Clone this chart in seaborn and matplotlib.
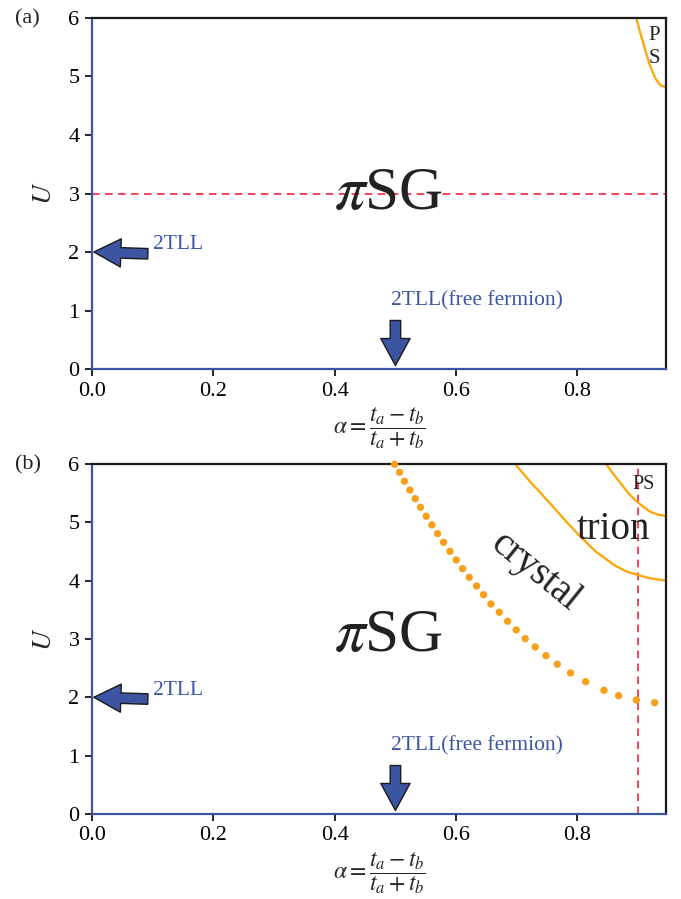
import numpy as np
import pandas as pd
import matplotlib
matplotlib.use('Agg')
import matplotlib.pyplot as plt
import seaborn as sns

# ---------------- data ----------------
# panel (a): phase-separation boundary
ps_a_alpha = [0.897, 0.9036, 0.9118, 0.919, 0.928, 0.937, 0.945]
ps_a_U = [5.995, 5.74, 5.45, 5.20, 4.97, 4.85, 4.82]
dash_a_U = 3.0

# panel (b): crystal boundary (dots)
cry_alpha = [0.4985, 0.5067, 0.5149, 0.5238, 0.5326, 0.5413, 0.5507, 0.5601,
             0.5694, 0.5793, 0.5898, 0.6002, 0.6106, 0.6216, 0.6337, 0.6452,
             0.6574, 0.6711, 0.6848, 0.6991, 0.7139, 0.7304, 0.7481, 0.7667,
             0.7886, 0.8134, 0.8437, 0.8678, 0.8970, 0.9272]
cry_U = [5.995, 5.858, 5.704, 5.554, 5.405, 5.258, 5.104, 4.955,
         4.806, 4.658, 4.503, 4.354, 4.205, 4.057, 3.908, 3.759,
         3.600, 3.458, 3.304, 3.155, 3.006, 2.863, 2.714, 2.567,
         2.417, 2.268, 2.120, 2.027, 1.954, 1.908]
# trion lower boundary
tri_alpha = [0.697, 0.72, 0.75, 0.78, 0.805, 0.83, 0.86, 0.88, 0.898, 0.92, 0.946]
tri_U = [6.0, 5.72, 5.38, 5.03, 4.75, 4.50, 4.27, 4.16, 4.10, 4.04, 4.0]
# PS boundary in (b)
ps_b_alpha = [0.847, 0.859, 0.871, 0.883, 0.895, 0.908, 0.920, 0.933, 0.946]
ps_b_U = [6.0, 5.83, 5.67, 5.51, 5.38, 5.27, 5.18, 5.13, 5.11]
dash_b_alpha = 0.9

xticks = [0.0, 0.2, 0.4, 0.6, 0.8]
yticks = [0, 1, 2, 3, 4, 5, 6]
xlim = (0.0, 0.946)
ylim = (0, 6)

# ---------------- style ----------------
sns.set_theme(style='ticks')
plt.rcParams['font.family'] = ['Liberation Serif', 'DejaVu Serif']
plt.rcParams['mathtext.fontset'] = 'stix'

BLUE = '#3b55a3'
ORANGE = '#f7a11a'
RED = '#f0142a'

fig = plt.figure(figsize=(6.81, 8.99), dpi=100)
ax_a = fig.add_axes([0.1351, 0.5895, 0.843, 0.3905])
ax_b = fig.add_axes([0.1351, 0.0946, 0.843, 0.3893])


def style_axes(ax, label):
    ax.set_xlim(*xlim)
    ax.set_ylim(*ylim)
    ax.set_xticks(xticks)
    ax.set_xticklabels([f'{t:.1f}' for t in xticks])
    ax.set_yticks(yticks)
    ax.set_yticklabels([str(t) for t in yticks])
    ax.tick_params(direction='out', length=5, width=1.2, colors='black',
                   labelsize=16, pad=4)
    for s in ['top', 'right']:
        ax.spines[s].set_color('#1a1a1a')
        ax.spines[s].set_linewidth(1.6)
    for s in ['left', 'bottom']:
        ax.spines[s].set_color(BLUE)
        ax.spines[s].set_linewidth(1.6)
    ax.set_xlabel(r'$\alpha=\dfrac{t_a-t_b}{t_a+t_b}$', fontsize=17, labelpad=3)
    ax.set_ylabel(r'$U$', fontsize=20, labelpad=8)
    ax.text(-0.106, 5.98, label, fontsize=16, ha='center', va='center', color='#222222')
    # 2TLL arrow (left)
    ax.annotate('', xy=(0.003, 2.0), xytext=(0.092, 1.97),
                arrowprops=dict(arrowstyle='simple,head_length=0.72,head_width=0.75,tail_width=0.28',
                                fc=BLUE, ec='#1a1a1a', lw=1.0, shrinkA=0, shrinkB=0,
                                mutation_scale=27))
    ax.text(0.1, 2.12, '2TLL', fontsize=15.5, color=BLUE, ha='left', va='center')
    # down arrow
    ax.annotate('', xy=(0.5, 0.06), xytext=(0.5, 0.83),
                arrowprops=dict(arrowstyle='simple,head_length=0.72,head_width=0.78,tail_width=0.28',
                                fc=BLUE, ec='#1a1a1a', lw=1.0, shrinkA=0, shrinkB=0,
                                mutation_scale=27))
    ax.text(0.493, 1.17, '2TLL(free fermion)', fontsize=15.5, color=BLUE,
            ha='left', va='center')


# ---------------- panel (a) ----------------
style_axes(ax_a, '(a)')
ax_a.axhline(dash_a_U, color=RED, ls=(0, (5, 3.5)), lw=1.1, zorder=1)
sns.lineplot(x=ps_a_alpha, y=ps_a_U, ax=ax_a, color='orange', lw=1.6,
             sort=False, estimator=None)
ax_a.text(0.926, 5.5, 'P\nS', fontsize=15, ha='center', va='center',
          linespacing=1.3, color='#222222')
ax_a.text(0.488, 2.98, r'$\pi$SG', fontsize=44, ha='center', va='center', color='#222222')

# ---------------- panel (b) ----------------
style_axes(ax_b, '(b)')
ax_b.axvline(dash_b_alpha, color=RED, ls=(0, (5, 3.5)), lw=1.1, zorder=1)
sns.lineplot(x=tri_alpha, y=tri_U, ax=ax_b, color='orange', lw=1.6,
             sort=False, estimator=None)
sns.lineplot(x=ps_b_alpha, y=ps_b_U, ax=ax_b, color='orange', lw=1.6,
             sort=False, estimator=None)
sns.scatterplot(x=cry_alpha, y=cry_U, ax=ax_b, color=ORANGE, s=28,
                edgecolor='none', zorder=3, clip_on=False)
ax_b.text(0.909, 5.64, 'PS', fontsize=14.5, ha='center', va='center', color='#222222')
ax_b.text(0.859, 4.88, 'trion', fontsize=28, ha='center', va='center', color='#222222')
ax_b.text(0.73, 4.15, 'crystal', fontsize=28, ha='center', va='center',
          rotation=-39, rotation_mode='anchor', color='#222222')
ax_b.text(0.488, 3.05, r'$\pi$SG', fontsize=44, ha='center', va='center', color='#222222')

fig.savefig('out.png', dpi=100)
